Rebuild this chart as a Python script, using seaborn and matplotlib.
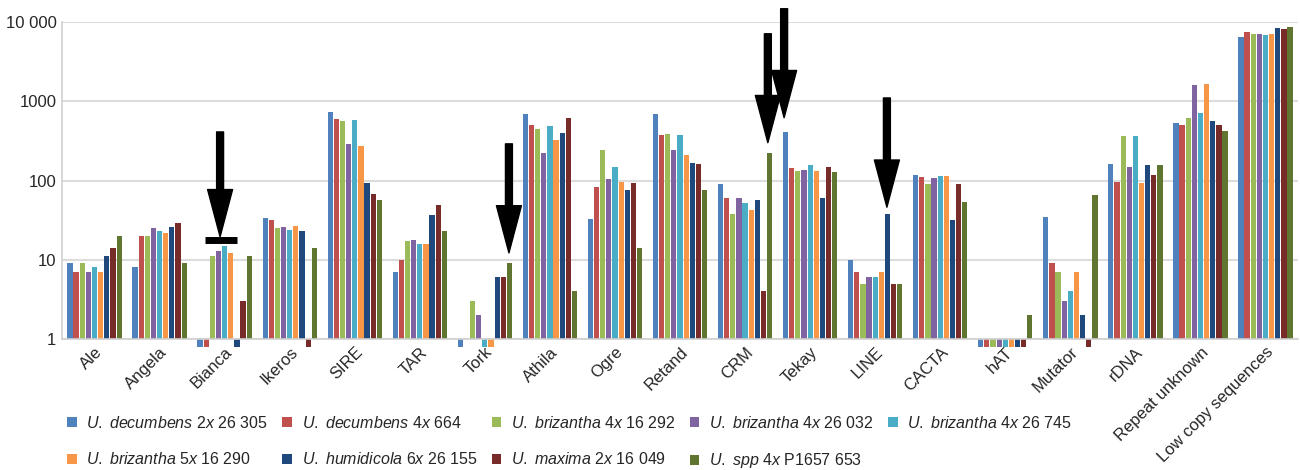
import matplotlib
matplotlib.use('Agg')
from matplotlib import pyplot as plt
from matplotlib.patches import Patch
import seaborn as sns
import pandas as pd

# カテゴリ（反復配列の種類）
categories = ['Ale', 'Angela', 'Bianca', 'Ikeros', 'SIRE', 'TAR', 'Tork', 'Athila', 'Ogre',
              'Retand', 'CRM', 'Tekay', 'LINE', 'CACTA', 'hAT', 'Mutator', 'rDNA',
              'Repeat unknown', 'Low copy sequences']

# 凡例ラベル（種名はイタリック）
series = [r'$\mathit{U.}$ $\mathit{decumbens}$ 2$\mathit{x}$ 26 305',
          r'$\mathit{U.}$ $\mathit{decumbens}$ 4$\mathit{x}$ 664',
          r'$\mathit{U.}$ $\mathit{brizantha}$ 4$\mathit{x}$ 16 292',
          r'$\mathit{U.}$ $\mathit{brizantha}$ 4$\mathit{x}$ 26 032',
          r'$\mathit{U.}$ $\mathit{brizantha}$ 4$\mathit{x}$ 26 745',
          r'$\mathit{U.}$ $\mathit{brizantha}$ 5$\mathit{x}$ 16 290',
          r'$\mathit{U.}$ $\mathit{humidicola}$ 6$\mathit{x}$ 26 155',
          r'$\mathit{U.}$ $\mathit{maxima}$ 2$\mathit{x}$ 16 049',
          r'$\mathit{U.}$ $\mathit{spp}$ 4$\mathit{x}$ P1657 653']

colors = ['#4F81BD', '#C0504D', '#9BBB59', '#8064A2', '#4BACC6',
          '#F79646', '#1F497D', '#772C2A', '#5F7530']

# 各系統の値（1未満は軸の下に短く出る）
dec_2x_26305 = [9, 8, 0.8, 34, 740, 7, 0.8, 700, 33, 690, 90, 415, 10, 118, 0.8, 35, 163, 530, 6500]
dec_4x_664 = [7, 20, 0.8, 32, 600, 10, 1, 500, 82, 375, 61, 142, 7, 111, 0.8, 9, 97, 500, 7420]
briz_4x_16292 = [9, 20, 11, 25, 570, 17, 3, 450, 240, 385, 38, 133, 5, 91, 0.8, 7, 369, 612, 7020]
briz_4x_26032 = [7, 25, 13, 26, 290, 18, 2, 220, 105, 246, 61, 137, 6, 107, 0.8, 3, 147, 1590, 7020]
briz_4x_26745 = [8, 23, 15, 24, 580, 16, 0.8, 490, 147, 375, 52, 155, 6, 113, 0.8, 4, 369, 713, 6890]
briz_5x_16290 = [7, 22, 12, 27, 275, 16, 0.8, 322, 97, 210, 43, 130, 7, 113, 0.8, 7, 94, 1640, 7020]
humid_6x_26155 = [11, 26, 0.8, 23, 94, 37, 6, 395, 75, 168, 57, 61, 38, 32, 0.8, 2, 155, 560, 8280]
maxima_2x_16049 = [14, 29, 3, 0.8, 68, 49, 6, 610, 94, 160, 4, 146, 5, 91, 0.8, 0.8, 118, 500, 8130]
spp_4x_p1657 = [20, 9, 11, 14, 57, 23, 9, 4, 14, 75, 221, 127, 5, 53, 2, 66, 155, 426, 8770]

values = [dec_2x_26305, dec_4x_664, briz_4x_16292, briz_4x_26032, briz_4x_26745,
          briz_5x_16290, humid_6x_26155, maxima_2x_16049, spp_4x_p1657]

# 矢印 (x位置, 矢の先端, 矢の根元)
arrows = [(1.93, 19.5, 410), (6.37, 12.2, 290), (10.35, 300, 7100),
          (10.6, 620, 14700), (12.18, 46, 1100)]
bianca_bar = (1.70, 2.19, 17.8)

rows = []
for name, vals in zip(series, values):
    for cat, v in zip(categories, vals):
        rows.append({'category': cat, 'series': name, 'value': v})
df = pd.DataFrame(rows)
df['height'] = df['value'] - 1  # 基線1から描く

sns.set_style('white')
plt.rcParams['font.family'] = ['Liberation Sans', 'DejaVu Sans']
plt.rcParams['mathtext.fontset'] = 'custom'
plt.rcParams['mathtext.rm'] = 'Liberation Sans'
plt.rcParams['mathtext.it'] = 'Liberation Sans:italic'

fig = plt.figure(figsize=(13, 4.7), dpi=100)
ax = fig.add_axes([0.0477, 0.2787, 0.9508, 0.6745])

sns.barplot(data=df, x='category', y='height', hue='series', hue_order=series,
            order=categories, palette=colors, saturation=1, bottom=1, width=0.85, gap=0.15,
            linewidth=0, clip_on=False, legend=False, ax=ax)

ax.set_yscale('log')
ax.set_ylim(1, 10000)
ax.set_xlim(-0.5, len(categories) - 0.5)
ax.set_yticks([1, 10, 100, 1000, 10000])
ax.set_yticklabels(['1', '10', '100', '1000', '10 000'], fontsize=12)
ax.minorticks_off()
ax.tick_params(axis='both', length=0, pad=4)
ax.set_xticks(range(len(categories)))
ax.set_xticklabels(categories, rotation=45, ha='right', rotation_mode='anchor', fontsize=12)
ax.set_xlabel('')
ax.set_ylabel('')
ax.yaxis.grid(True, color='#dcdcdc', lw=1.5)
ax.set_axisbelow(True)
for s in ['top', 'right']:
    ax.spines[s].set_visible(False)
for s in ['left', 'bottom']:
    ax.spines[s].set_color('#d0d0d0')
    ax.spines[s].set_linewidth(1.2)

for x, tip, top in arrows:
    ax.annotate('', xy=(x, tip), xytext=(x, top), annotation_clip=False,
                arrowprops=dict(arrowstyle='simple,head_length=3.4,head_width=1.8,tail_width=0.5',
                                mutation_scale=10, color='black', shrinkA=0, shrinkB=0))
ax.plot([bianca_bar[0], bianca_bar[1]], [bianca_bar[2], bianca_bar[2]], color='black',
        lw=5, solid_capstyle='butt')

handles = [Patch(facecolor=c, edgecolor='none') for c in colors]
order = [0, 5, 1, 6, 2, 7, 3, 8, 4]
fig.legend([handles[i] for i in order], [series[i] for i in order], ncol=5,
           loc='upper left', bbox_to_anchor=(0.0515, 0.118), frameon=False,
           fontsize=11.5, handlelength=0.6, handleheight=0.6, handletextpad=0.6,
           columnspacing=0.9, labelspacing=1.3, borderaxespad=0, borderpad=0)

fig.savefig('out.png', dpi=100)
